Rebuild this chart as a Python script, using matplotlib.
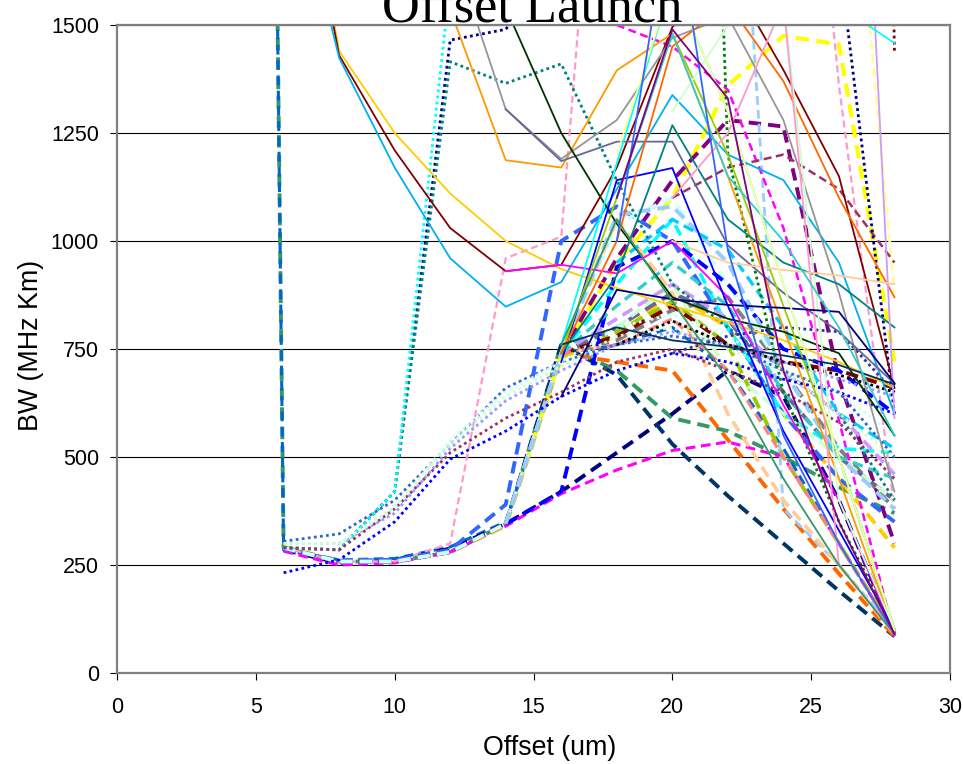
import matplotlib
matplotlib.use("Agg")
import matplotlib.pyplot as plt
import numpy as np

N = np.nan

# offsets (um) at which BW was measured
offsets = [4, 6, 8, 10, 12, 14, 16, 18, 20, 22, 24, 26, 28]

# thin solid series
solid_colors = ["#FFCC00", "#800000", "#00B0F0", "#FF9900", "#969696", "#666699",
                "#003300", "#FF00FF", "#0000FF", "#00FFFF", "#008080", "#99CC00",
                "#FF6600", "#CCFFCC", "#FF99CC", "#CC99FF", "#00FFFF", "#000080",
                "#003366", "#339966", "#FFCC99", "#33CCCC", "#FFFF99", "#3366FF",
                "#800080"]
solid_values = [
    [N, 2150, 1440, 1250, 1110, 1000, 935, 891, 850, 812, 770, 720, 660],
    [N, 2100, 1430, 1210, 1030, 930, 945, 1170, 1495, 1620, 1396, 1150, 660],
    [N, 1950, 1424, 1170, 960, 848, 905, 1120, 1338, 1200, 1141, 950, 600],
    [N, N, N, N, 1535, 1187, 1170, 1395, 1480, 1150, 800, 450, 95],
    [N, N, N, N, 1690, 1305, 1190, 1280, 1470, 1520, 1280, 880, 420],
    [N, N, N, N, N, 1305, 1185, 1230, 1230, 990, 880, 790, 670],
    [N, N, N, N, N, 1540, 1250, 1040, 870, 820, 790, 740, 550],
    [N, N, N, N, N, 930, 945, 925, 1000, 870, 620, 400, 90],
    [N, N, N, N, N, N, 720, 1141, 1169, 850, 560, 330, 100],
    [N, N, N, N, N, N, 760, 1180, 1600, 1300, 900, 500, 100],
    [N, N, N, N, N, N, 740, 920, 1268, 1050, 950, 900, 800],
    [N, N, N, N, N, N, 740, 1100, 1480, 1200, 850, 500, 100],
    [N, N, N, N, N, N, 740, 1000, 1450, 1550, 1370, 1100, 870],
    [N, N, N, N, N, N, N, N, 1300, 1500, 1560, 400, 100],
    [N, N, N, N, N, N, N, N, 1100, 1250, 1550, 250, 90],
    [N, N, N, N, N, N, N, N, N, N, N, 3190, 590],
    [N, N, N, N, N, N, N, N, N, N, 1700, 1545, 1458],
    [N, N, N, N, N, N, 640, 887, 865, 852, 845, 836, 671],
    [N, N, N, N, N, N, 760, 800, 770, 755, 735, 713, 668],
    [N, N, N, N, N, N, 760, 1050, 860, 680, 450, 250, 90],
    [N, N, N, N, N, N, N, N, 1000, 950, 933, 920, 900],
    [N, N, N, N, N, N, N, 1100, 1480, 1150, 1000, 800, 550],
    [N, N, N, N, N, N, N, 1200, 1600, 1300, 900, 500, 100],
    [N, N, N, N, N, N, N, 1000, 1800, 979, 550, 300, 90],
    [N, N, N, N, N, N, N, 1100, 1490, 1330, 700, 350, 90],
]

# dashed series (colour, width in pt)
dashed_colors = ["#339966", "#0066CC", "#000080", "#FF00FF", "#003366", "#FF6600",
                 "#FFCC00", "#808080", "#99CC00", "#666699", "#FFFF00", "#800080",
                 "#FF99CC", "#FF99CC", "#FFFF99", "#99CCFF", "#3366FF", "#CCFFFF",
                 "#FF00FF", "#00FFFF", "#CCFFCC", "#FFCC99", "#993366", "#800000",
                 "#0000FF", "#99CCFF", "#CC99FF", "#FF8080", "#33CCCC", "#00CCFF"]
dashed_widths = [2.8, 2.2, 2.8, 2.2, 2.8, 2.8, 2.8, 2.8, 2.8, 2.8, 3.0, 2.8,
                 1.6, 1.6, 2.0, 2.0, 2.8, 2.8, 1.8, 2.6, 2.6, 2.6, 1.8, 2.8,
                 2.8, 2.8, 2.6, 2.2, 2.4, 2.4]
dashed_values = [
    [11500, 290, 258, 258, 280, 345, 760, 700, 590, 560, 500, 430, 370],
    [11500, 285, 262, 265, 292, 350, 735, 760, 800, 700, 520, 300, 90],
    [N, 285, 255, 262, 288, 345, 420, 510, 600, 700, 640, 400, 90],
    [N, 282, 250, 255, 280, 340, 415, 470, 515, 535, 500, 300, 90],
    [N, 290, 258, 258, 280, 345, 760, 690, 530, 410, 300, 190, 85],
    [N, 290, 258, 258, 280, 345, 740, 720, 700, 540, 380, 230, 85],
    [N, 292, 260, 260, 280, 340, 730, 780, 880, 800, 600, 450, 290],
    [N, 290, 258, 258, 280, 345, 740, 770, 840, 870, 700, 520, 380],
    [N, 290, 258, 258, 280, 345, 735, 790, 860, 760, 500, 300, 95],
    [N, 290, 258, 258, 280, 345, 740, 800, 880, 820, 650, 500, 400],
    [N, N, N, N, N, 345, 735, 950, 1100, 1360, 1475, 1455, 720],
    [N, 290, 258, 258, 280, 345, 740, 960, 1140, 1280, 1265, 680, 300],
    [N, 290, 258, 258, 300, 960, 1010, 2600, N, N, N, N, N],
    [N, N, N, N, N, N, N, N, N, N, 2700, 1360, 380],
    [N, N, N, N, N, N, N, N, N, N, N, 2260, 880],
    [N, N, N, N, N, N, N, N, N, 2400, 380, 250, 100],
    [N, 288, 260, 262, 285, 390, 1000, 1080, 1000, 800, 600, 450, 350],
    [N, 290, 258, 258, 280, 345, 740, 1040, 1100, 900, 700, 500, 100],
    [N, N, N, N, N, N, N, 1500, 1450, 1350, 1030, 585, 85],
    [N, N, N, N, N, N, 740, 900, 1050, 800, 600, 520, 510],
    [N, N, N, N, N, N, N, 800, 900, 700, 600, 500, 400],
    [N, N, N, N, N, N, 740, 1050, 880, 600, 400, 250, 90],
    [N, N, N, N, N, N, N, N, 1100, 1170, 1200, 1120, 950],
    [N, N, N, N, N, N, 740, 780, 850, 760, 720, 700, 660],
    [N, N, N, N, N, 345, 420, 940, 1000, 900, 750, 700, 600],
    [N, N, N, N, N, 345, 740, 1060, 1080, 950, 700, 500, 380],
    [N, N, N, N, N, N, 740, 820, 900, 820, 700, 600, 460],
    [N, N, N, N, N, N, 740, 760, 820, 700, 500, 300, 90],
    [N, N, N, N, N, N, 740, 850, 950, 850, 650, 500, 450],
    [N, N, N, N, N, N, N, 950, 1050, 980, 800, 600, 520],
]

# dotted series
dotted_colors = ["#000080", "#008080", "#00FFFF", "#0000FF", "#3366CC", "#993366",
                 "#9999FF", "#CCFFFF", "#008000", "#000080", "#800000", "#CCFFCC",
                 "#333399", "#000000"]
dotted_values = [
    [N, 290, 285, 420, 1465, 1490, 1650, N, N, N, N, N, N],
    [N, 290, 285, 420, 1415, 1365, 1410, 1140, 900, 800, 700, 600, 400],
    [N, 290, 285, 420, 1600, N, N, N, N, N, N, N, N],
    [N, 232, 262, 350, 495, 560, 640, 700, 740, 720, 680, 650, 600],
    [N, 305, 322, 400, 530, 660, 720, 760, 780, 760, 700, 650, 500],
    [N, 290, 285, 380, 510, 590, 650, 720, 750, 700, 650, 580, 450],
    [N, 300, 300, 370, 520, 630, 700, 760, 790, 760, 720, 680, 640],
    [N, 300, 300, 380, 540, 650, 720, 800, 830, 780, 700, 650, 550],
    [N, N, N, N, N, N, N, N, 5000, 1200, 650, 350, 100],
    [N, N, N, N, N, N, N, N, N, N, 2500, 1660, 600],
    [N, N, N, N, N, N, N, N, N, N, N, 8000, 1440],
    [N, 300, 300, 385, 530, 640, 710, 780, 800, 750, 700, 600, 500],
    [N, N, N, N, N, N, N, N, 740, 780, 800, 790, 650],
    [N, N, N, N, N, N, N, 760, 815, 760, 720, 690, 650],
]

plt.rcParams["font.family"] = ["Liberation Sans", "DejaVu Sans"]
plt.rcParams["lines.scale_dashes"] = False

fig = plt.figure(figsize=(9.63, 7.64), dpi=100)
ax = fig.add_axes([117 / 963, 1 - 673 / 764, (950 - 117) / 963, (673 - 25) / 764])

for vals, col, w in zip(dashed_values, dashed_colors, dashed_widths):
    ax.plot(offsets, vals, color=col, lw=w, dashes=(3.2 * w, 1.8 * w),
            solid_capstyle="butt", dash_capstyle="butt")

for vals, col in zip(dotted_values, dotted_colors):
    ax.plot(offsets, vals, color=col, lw=2.0, dashes=(2.0, 2.4),
            dash_capstyle="butt")

for vals, col in zip(solid_values, solid_colors):
    ax.plot(offsets, vals, color=col, lw=1.3)

ax.set_xlim(0, 30)
ax.set_ylim(0, 1500)
ax.set_xticks(range(0, 31, 5))
ax.set_yticks(range(0, 1501, 250))
ax.yaxis.grid(True, color="black", lw=0.8)
ax.set_axisbelow(True)
for sp in ax.spines.values():
    sp.set_color("#808080")
    sp.set_linewidth(1.6)
ax.tick_params(axis="both", direction="out", length=5, width=0.8,
               colors="black", labelsize=15.5)
ax.tick_params(axis="x", pad=12)
ax.tick_params(axis="y", pad=8)

fig.text(0.553, 1 - 22 / 764, "Offset Launch", ha="center", va="baseline",
         fontsize=37.7, family="Liberation Serif")
fig.text(550 / 963, 1 - 748 / 764, "Offset (um)", ha="center", va="center",
         fontsize=19.3)
fig.text(31 / 963, 1 - 345 / 764, "BW (MHz Km)", ha="center", va="center",
         rotation=90, fontsize=19.3)

fig.savefig("out.png", dpi=100, facecolor="white")
